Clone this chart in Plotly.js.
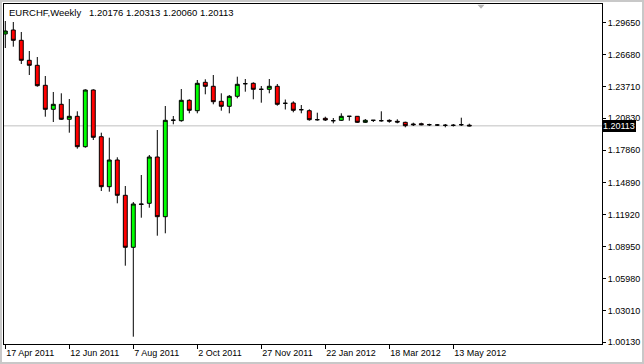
<!DOCTYPE html>
<html><head><meta charset="utf-8">
<script src="https://cdn.plot.ly/plotly-3.0.1.min.js"></script>
<style>html,body{margin:0;padding:0;background:#fff;}#chart{width:640px;height:360px;border:2px solid #c8c8c8;}</style>
</head><body><div id="chart"></div><script>
const dates = ["2011-04-17","2011-04-24","2011-05-01","2011-05-08","2011-05-15","2011-05-22","2011-05-29","2011-06-05","2011-06-12","2011-06-19","2011-06-26","2011-07-03","2011-07-10","2011-07-17","2011-07-24","2011-07-31","2011-08-07","2011-08-14","2011-08-21","2011-08-28","2011-09-04","2011-09-11","2011-09-18","2011-09-25","2011-10-02","2011-10-09","2011-10-16","2011-10-23","2011-10-30","2011-11-06","2011-11-13","2011-11-20","2011-11-27","2011-12-04","2011-12-11","2011-12-18","2011-12-25","2012-01-01","2012-01-08","2012-01-15","2012-01-22","2012-01-29","2012-02-05","2012-02-12","2012-02-19","2012-02-26","2012-03-04","2012-03-11","2012-03-18","2012-03-25","2012-04-01","2012-04-08","2012-04-15","2012-04-22","2012-04-29","2012-05-06","2012-05-13","2012-05-20","2012-05-27"];
const openP = [1.28605,1.28974,1.28022,1.26173,1.25711,1.23862,1.21643,1.22105,1.20719,1.20996,1.18186,1.23427,1.19110,1.14488,1.16956,1.13692,1.08885,1.12888,1.12953,1.17233,1.11714,1.20626,1.20589,1.22475,1.21514,1.24139,1.23770,1.22383,1.21920,1.22845,1.24010,1.24047,1.23492,1.23492,1.23770,1.22198,1.22226,1.21606,1.21514,1.20682,1.20811,1.20589,1.20626,1.20996,1.20996,1.20441,1.20626,1.20589,1.20620,1.20534,1.20441,1.20284,1.20312,1.20219,1.20192,1.20164,1.20164,1.20219,1.20176];
const highP = [1.29806,1.29714,1.28790,1.27033,1.26478,1.24722,1.23243,1.23122,1.22595,1.21458,1.23492,1.23492,1.19480,1.19018,1.17206,1.14552,1.13073,1.15569,1.17418,1.19729,1.21948,1.21024,1.23520,1.22568,1.24352,1.24417,1.24814,1.23122,1.22965,1.24657,1.24444,1.24139,1.23797,1.24444,1.23982,1.22549,1.22383,1.22041,1.21643,1.21329,1.20959,1.20839,1.21273,1.21010,1.21024,1.20746,1.20654,1.21458,1.20719,1.20719,1.20497,1.20404,1.20404,1.20312,1.20284,1.20284,1.20284,1.20867,1.20313];
const lowP = [1.27310,1.27431,1.25831,1.24814,1.23733,1.20959,1.20469,1.20654,1.19480,1.18001,1.18093,1.18805,1.14090,1.14025,1.12953,1.07184,1.00620,1.11622,1.12546,1.09957,1.10179,1.20256,1.20497,1.21273,1.21273,1.23030,1.22105,1.21514,1.21273,1.22660,1.23270,1.22568,1.22253,1.23122,1.21976,1.21625,1.21366,1.21273,1.20589,1.20589,1.20561,1.20349,1.20561,1.20589,1.20377,1.20377,1.20469,1.20497,1.20404,1.20349,1.19979,1.20099,1.20164,1.20099,1.20099,1.19979,1.20053,1.20099,1.20060];
const closeP = [1.28882,1.28022,1.26173,1.25711,1.23825,1.21643,1.22105,1.20719,1.20996,1.18186,1.23427,1.19055,1.14488,1.16956,1.13692,1.08885,1.12888,1.12860,1.17233,1.11714,1.20626,1.20640,1.22475,1.21551,1.24047,1.23770,1.22346,1.21920,1.22845,1.23954,1.24010,1.23492,1.23492,1.23770,1.22105,1.22198,1.21551,1.21606,1.20682,1.20682,1.20654,1.20589,1.20996,1.20996,1.20441,1.20626,1.20626,1.20589,1.20550,1.20469,1.20127,1.20219,1.20219,1.20219,1.20192,1.20164,1.20164,1.20219,1.20113];
const xTickDates = ["2011-04-17","2011-06-12","2011-08-07","2011-10-02","2011-11-27","2012-01-22","2012-03-18","2012-05-13"];
const xTickText = ["17 Apr 2011","12 Jun 2011","7 Aug 2011","2 Oct 2011","27 Nov 2011","22 Jan 2012","18 Mar 2012","13 May 2012"];
const yTickVals = [1.29650,1.26680,1.23710,1.20830,1.17860,1.14890,1.11920,1.08950,1.05980,1.03010,1.00130];
const yTickText = ["1.29650","1.26680","1.23710","1.20830","1.17860","1.14890","1.11920","1.08950","1.05980","1.03010","1.00130"];
const symbol = "EURCHF,Weekly";
const lastBar = ["1.20176","1.20313","1.20060","1.20113"];
const lastPrice = 1.20113;

const font = "Liberation Sans, Arial, sans-serif";
const trace = {
  type: "candlestick", x: dates, open: openP, high: highP, low: lowP, close: closeP,
  increasing: {line: {color: "#000000", width: 1}, fillcolor: "#00ff00"},
  decreasing: {line: {color: "#000000", width: 1}, fillcolor: "#ff0000"},
  whiskerwidth: 0, hoverinfo: "skip"
};
const layout = {
  width: 640, height: 360,
  margin: {l: 2, r: 40, t: 2, b: 18, pad: 0},
  paper_bgcolor: "#ffffff", plot_bgcolor: "#ffffff",
  showlegend: false,
  xaxis: {
    type: "date", range: ["2011-04-15 20:42", "2012-09-20 02:40"],
    rangeslider: {visible: false}, showgrid: false, zeroline: false,
    showline: true, mirror: true, linecolor: "#000000", linewidth: 1,
    ticks: "outside", ticklen: 4, tickcolor: "#000000", tickwidth: 1,
    tickmode: "array", tickvals: xTickDates, ticktext: xTickText,
    ticklabelposition: "outside right",
    tickfont: {family: font, size: 9, color: "#000000"}, fixedrange: true
  },
  yaxis: {
    side: "right", range: [0.99945, 1.31378],
    showgrid: false, zeroline: false,
    showline: true, mirror: true, linecolor: "#000000", linewidth: 1,
    ticks: "outside", ticklen: 3, tickcolor: "#000000", tickwidth: 1,
    tickmode: "array", tickvals: yTickVals, ticktext: yTickText,
    tickfont: {family: font, size: 9, color: "#000000"}, fixedrange: true
  },
  shapes: [
    {type: "line", xref: "paper", x0: 0, x1: 1, yref: "y", y0: lastPrice, y1: lastPrice,
     line: {color: "#c0c0c0", width: 1}, layer: "below"},
    {type: "path", xref: "paper", yref: "paper",
     path: "M 0.7918 0.998 L 0.8035 0.998 L 0.7977 0.9862 Z",
     fillcolor: "#b4b4b4", line: {width: 0}}
  ],
  annotations: [
    {xref: "paper", yref: "paper", x: 0.005, y: 0.975, xanchor: "left", yanchor: "middle",
     text: symbol + "\u00a0\u00a0 " + lastBar.join(" "), showarrow: false,
     font: {family: font, size: 9.5, color: "#000000"}},
    {xref: "paper", yref: "y", x: 1, y: lastPrice, xanchor: "left", yanchor: "middle",
     text: lastPrice.toFixed(5), showarrow: false, bgcolor: "#000000",
     borderpad: 1, borderwidth: 0,
     font: {family: font, size: 9, color: "#ffffff"}}
  ]
};
Plotly.newPlot("chart", [trace], layout, {staticPlot: true, displayModeBar: false});
</script></body></html>
